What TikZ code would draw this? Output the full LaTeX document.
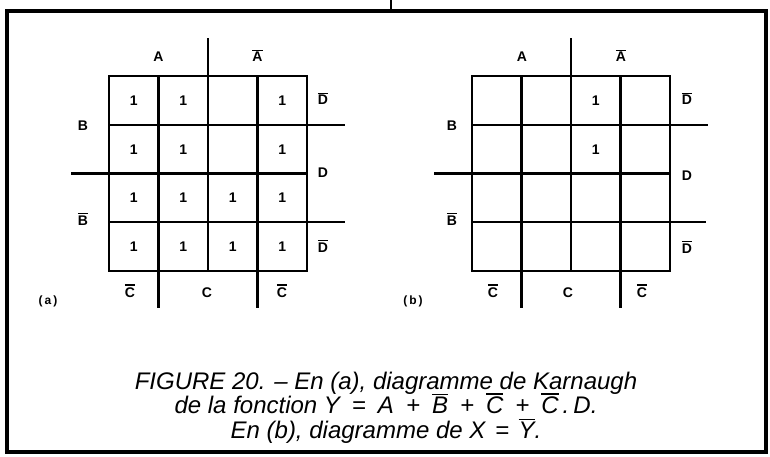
\documentclass[tikz,border=0pt]{standalone}
\usepackage{fontspec}
\setmainfont{Liberation Sans}
\newcommand\ob[1]{\vbox{\hrule height 1.2pt\kern 1.6pt\hbox{#1}}}
\newcommand\obi[1]{\vbox{\hrule height 1.3pt\kern 1.6pt\hbox{#1}}}
\newcommand\wsp{\hskip 0.5em\relax}
\begin{document}
\begin{tikzpicture}[x=1pt,y=-1pt,
  grid/.style={line width=2.4pt,line cap=rect},
  lbl/.style={font=\fontsize{14}{16}\selectfont\bfseries,inner sep=0pt,anchor=base},
  sub/.style={font=\fontsize{12}{14}\selectfont\bfseries,inner sep=0pt,anchor=base},
  captext/.style={font=\fontsize{24}{28}\selectfont\itshape,inner sep=0pt,anchor=base}]
\useasboundingbox (0,0) rectangle (770,457);
\def\cw{49.5}
\def\ch{48.75}
% frame
\draw[line width=4pt] (7,11) rectangle (766,452);
\draw[line width=2pt] (391,0) -- (391,11);
% ---------- map (a)
\begin{scope}[shift={(109,76)}]
  \draw[grid] (0,0) rectangle (4*\cw,4*\ch);
  \foreach \i in {1,2,3} {
    \draw[grid] (\i*\cw,0) -- (\i*\cw,4*\ch);
    \draw[grid] (0,\i*\ch) -- (4*\cw,\i*\ch);
  }
  \draw[grid] (2*\cw,-37) -- (2*\cw,0);
  \draw[grid] (-37,2*\ch) -- (0,2*\ch);
  \draw[grid] (4*\cw,\ch) -- (4*\cw+37,\ch);
  \draw[grid] (4*\cw,3*\ch) -- (4*\cw+37,3*\ch);
  \draw[grid] (\cw,4*\ch) -- (\cw,4*\ch+36);
  \draw[grid] (3*\cw,4*\ch) -- (3*\cw,4*\ch+36);
  \foreach \c/\r in {1/1,2/1,4/1,1/2,2/2,4/2,1/3,2/3,3/3,4/3,1/4,2/4,3/4,4/4}
    \node[lbl] (a-\c-\r) at ({(\c-0.5)*\cw},{(\r-0.5)*\ch+5}) {1};
  \node[lbl] (aA)  at (\cw,-14) {A};
  \node[lbl] (aAn) at (3*\cw,-14) {\ob{A}};
  \node[lbl] (aB)  at (-26,55) {B};
  \node[lbl] (aBn) at (-26,149) {\ob{B}};
  \node[lbl] (aD1) at (214,29) {\ob{D}};
  \node[lbl] (aD)  at (214,102) {D};
  \node[lbl] (aD2) at (214,176) {\ob{D}};
  \node[lbl] (aC1) at (21,221) {\ob{C}};
  \node[lbl] (aC)  at (98,221) {C};
  \node[lbl] (aC2) at (173,221) {\ob{C}};
  \node[sub] (alab) at (-61,228) {(\,a\,)};
\end{scope}
% ---------- map (b)
\begin{scope}[shift={(472,76)}]
  \draw[grid] (0,0) rectangle (4*\cw,4*\ch);
  \foreach \i in {1,2,3} {
    \draw[grid] (\i*\cw,0) -- (\i*\cw,4*\ch);
    \draw[grid] (0,\i*\ch) -- (4*\cw,\i*\ch);
  }
  \draw[grid] (2*\cw,-37) -- (2*\cw,0);
  \draw[grid] (-37,2*\ch) -- (0,2*\ch);
  \draw[grid] (4*\cw,\ch) -- (4*\cw+37,\ch);
  \draw[grid] (4*\cw,3*\ch) -- (4*\cw+35,3*\ch);
  \draw[grid] (\cw,4*\ch) -- (\cw,4*\ch+36);
  \draw[grid] (3*\cw,4*\ch) -- (3*\cw,4*\ch+36);
  \foreach \c/\r in {3/1,3/2}
    \node[lbl] (b-\c-\r) at ({(\c-0.5)*\cw},{(\r-0.5)*\ch+5}) {1};
  \node[lbl] (bA)  at (50,-14) {A};
  \node[lbl] (bAn) at (149,-14) {\ob{A}};
  \node[lbl] (bB)  at (-20,55) {B};
  \node[lbl] (bBn) at (-20,149) {\ob{B}};
  \node[lbl] (bD1) at (215,29) {\ob{D}};
  \node[lbl] (bD)  at (215,104) {D};
  \node[lbl] (bD2) at (215,177) {\ob{D}};
  \node[lbl] (bC1) at (21,221) {\ob{C}};
  \node[lbl] (bC)  at (96,221) {C};
  \node[lbl] (bC2) at (170,221) {\ob{C}};
  \node[sub] (blab) at (-59,228) {(\,b\,)};
\end{scope}
% ---------- caption
\node[captext] (cap1) at (386,389) {FIGURE 20. -- En (a), diagramme de Karnaugh};
\node[captext] (cap2) at (386,413) {de la fonction Y\wsp=\wsp A\wsp+\wsp\obi{B}\wsp+\wsp\obi{C}\wsp+\wsp\obi{C}\,.\,D.};
\node[captext] (cap3) at (386,438) {En (b), diagramme de X\hskip .4em=\hskip .4em\obi{Y}.};
\end{tikzpicture}
\end{document}
